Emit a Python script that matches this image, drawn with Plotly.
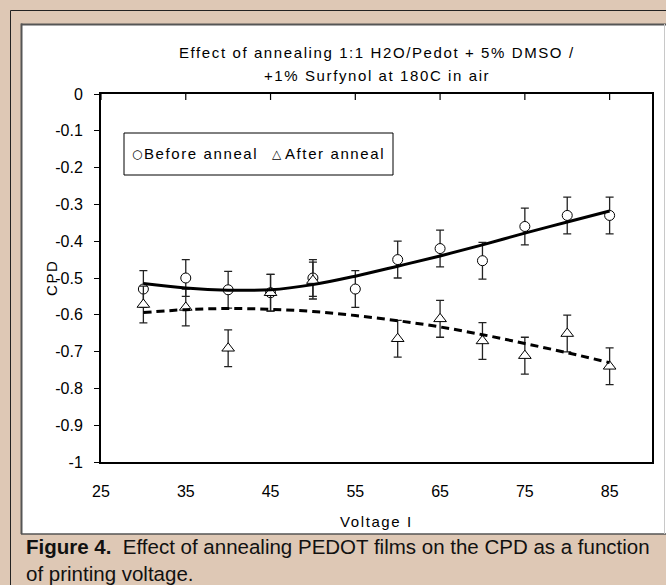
import plotly.graph_objects as go

# ---------------- data ----------------
voltage_before = [30, 35, 40, 45, 50, 55, 60, 65, 70, 75, 80, 85]
cpd_before = [-0.53, -0.50, -0.532, -0.54, -0.50, -0.53, -0.45, -0.42, -0.453, -0.36, -0.33, -0.33]
err_before = [0.05, 0.05, 0.05, 0.05, 0.05, 0.05, 0.05, 0.05, 0.05, 0.05, 0.05, 0.05]

voltage_after = [30, 35, 40, 45, 50, 60, 65, 70, 75, 80, 85]
cpd_after = [-0.572, -0.58, -0.691, -0.54, -0.507, -0.665, -0.611, -0.671, -0.711, -0.651, -0.74]
err_after = [0.05, 0.05, 0.05, 0.05, 0.05, 0.05, 0.05, 0.05, 0.05, 0.05, 0.05]

trend_voltage = [30, 35, 40, 45, 50, 55, 60, 65, 70, 75, 80, 85]
trend_before = [-0.515, -0.527, -0.533, -0.532, -0.518, -0.495, -0.468, -0.44, -0.41, -0.378, -0.348, -0.318]
trend_after = [-0.594, -0.586, -0.583, -0.585, -0.591, -0.602, -0.616, -0.633, -0.654, -0.678, -0.703, -0.73]

series_names = ["Before anneal", "After anneal"]
x_tickvals = [25, 35, 45, 55, 65, 75, 85]
y_tickvals = [0, -0.1, -0.2, -0.3, -0.4, -0.5, -0.6, -0.7, -0.8, -0.9, -1]
y_ticktext = ["0", "-0.1", "-0.2", "-0.3", "-0.4", "-0.5", "-0.6", "-0.7", "-0.8", "-0.9", "-1"]

title_lines = ["Effect of annealing 1:1 H2O/Pedot + 5% DMSO /", "+1% Surfynol at 180C in air"]
x_title = "Voltage I"
y_title = "CPD"
caption_lines = ["<b>Figure 4.</b>  Effect of annealing PEDOT films on the CPD as a function",
                 "of printing voltage."]

# ---------------- layout geometry ----------------
FIG_W, FIG_H = 666, 585
L, T, R, B = 101, 94, 14, 123
W = FIG_W - L - R
H = FIG_H - T - B

def fx(px):
    return (px - L) / W

def fy(py):
    return (T + H - py) / H

FONT = "Liberation Sans, Arial, sans-serif"
TAN = "#dec8b5"

def spaced(text, sp=1.6):
    return '<span style="letter-spacing:%spx">%s</span>' % (sp, text)

fig = go.Figure()

fig.add_trace(go.Scatter(
    x=voltage_before, y=cpd_before, mode="markers", name=series_names[0],
    marker=dict(symbol="circle", size=10, color="white", line=dict(color="black", width=1)),
    error_y=dict(type="data", array=err_before, visible=True, color="#222", thickness=1.3, width=4),
    showlegend=False,
))
fig.add_trace(go.Scatter(
    x=voltage_after, y=cpd_after, mode="markers", name=series_names[1],
    marker=dict(symbol="triangle-up", size=11, color="white", line=dict(color="black", width=1)),
    error_y=dict(type="data", array=err_after, visible=True, color="#222", thickness=1.3, width=4),
    showlegend=False,
))
fig.add_trace(go.Scatter(
    x=trend_voltage, y=trend_before, mode="lines", name=series_names[0] + " trend",
    line=dict(color="black", width=3, shape="spline", smoothing=1.0),
    showlegend=False, hoverinfo="skip",
))
fig.add_trace(go.Scatter(
    x=trend_voltage, y=trend_after, mode="lines", name=series_names[1] + " trend",
    line=dict(color="black", width=3, shape="spline", smoothing=1.0, dash="8px,5px"),
    showlegend=False, hoverinfo="skip",
))

shapes = [
    # white inner panel
    dict(type="rect", xref="paper", yref="paper", x0=fx(21), x1=fx(700), y0=fy(534), y1=fy(24),
         fillcolor="white", line=dict(width=0), layer="below"),
    # inner panel borders
    dict(type="line", xref="paper", yref="paper", x0=fx(21.5), x1=fx(21.5), y0=fy(534), y1=fy(23.5),
         line=dict(color="#555", width=2), layer="below"),
    dict(type="line", xref="paper", yref="paper", x0=fx(21), x1=fx(700), y0=fy(24.5), y1=fy(24.5),
         line=dict(color="#555", width=2), layer="below"),
    dict(type="line", xref="paper", yref="paper", x0=fx(21), x1=fx(700), y0=fy(534), y1=fy(534),
         line=dict(color="#555", width=1.5), layer="below"),
    dict(type="line", xref="paper", yref="paper", x0=fx(664.5), x1=fx(664.5), y0=fy(534), y1=fy(24),
         line=dict(color="#c8c8c8", width=1), layer="below"),
    # outer dark frame
    dict(type="line", xref="paper", yref="paper", x0=fx(10.5), x1=fx(10.5), y0=fy(700), y1=fy(10.5),
         line=dict(color="#222", width=1), layer="below"),
    dict(type="line", xref="paper", yref="paper", x0=fx(10.5), x1=fx(700), y0=fy(10.5), y1=fy(10.5),
         line=dict(color="#222", width=1), layer="below"),
    # legend box
    dict(type="rect", xref="paper", yref="paper", x0=fx(124), x1=fx(393), y0=fy(175), y1=fy(133),
         fillcolor="white", line=dict(color="black", width=1), layer="above"),
]
# x-axis tick marks: the category axis sits at y = 0 (top edge) with ticks pointing down
for v in x_tickvals:
    shapes.append(dict(type="line", xref="x", yref="paper", x0=v, x1=v, y0=1.0, y1=fy(T + 6),
                       line=dict(color="black", width=1.2), layer="above"))

annotations = [
    dict(text=spaced(title_lines[0]), x=0.5, y=fy(53), xref="paper", yref="paper",
         xanchor="center", yanchor="middle", showarrow=False, font=dict(family=FONT, size=15, color="black")),
    dict(text=spaced(title_lines[1]), x=0.5, y=fy(76), xref="paper", yref="paper",
         xanchor="center", yanchor="middle", showarrow=False, font=dict(family=FONT, size=15, color="black")),
    dict(text=spaced(x_title), x=0.5, y=fy(521), xref="paper", yref="paper",
         xanchor="center", yanchor="middle", showarrow=False, font=dict(family=FONT, size=15, color="black")),
    dict(text=spaced(y_title), x=fx(51), y=fy(278), xref="paper", yref="paper", textangle=-90,
         xanchor="center", yanchor="middle", showarrow=False, font=dict(family=FONT, size=15, color="black")),
    # legend entries
    dict(text="○", x=fx(137), y=fy(154), xref="paper", yref="paper",
         xanchor="center", yanchor="middle", showarrow=False, font=dict(family="DejaVu Sans", size=12, color="black")),
    dict(text=spaced(series_names[0]), x=fx(142), y=fy(154), xref="paper", yref="paper",
         xanchor="left", yanchor="middle", showarrow=False, font=dict(family=FONT, size=15, color="black")),
    dict(text="△", x=fx(277), y=fy(154), xref="paper", yref="paper",
         xanchor="center", yanchor="middle", showarrow=False, font=dict(family="DejaVu Sans", size=12, color="black")),
    dict(text=spaced(series_names[1]), x=fx(283), y=fy(154), xref="paper", yref="paper",
         xanchor="left", yanchor="middle", showarrow=False, font=dict(family=FONT, size=15, color="black")),
    # caption (two lines, one text block)
    dict(text=caption_lines[0] + "<br>" + caption_lines[1], x=fx(24), y=fy(560), xref="paper", yref="paper",
         xanchor="left", yanchor="middle", align="left", showarrow=False,
         font=dict(family=FONT, size=20.5, color="#111")),
]

fig.update_layout(
    width=FIG_W, height=FIG_H,
    margin=dict(l=L, r=R, t=T, b=B, pad=0),
    paper_bgcolor=TAN, plot_bgcolor="white",
    font=dict(family=FONT, size=16, color="black"),
    showlegend=False,
    shapes=shapes,
    annotations=annotations,
    xaxis=dict(range=[25, 90], tickvals=x_tickvals, ticks="", showgrid=False, zeroline=False,
               showline=True, linecolor="black", linewidth=2, mirror=True,
               tickfont=dict(family=FONT, size=16, color="black"), ticklabelstandoff=14),
    yaxis=dict(range=[-1, 0], tickvals=y_tickvals, ticktext=y_ticktext, ticks="outside", ticklen=5,
               tickwidth=1, tickcolor="black", showgrid=False, zeroline=False,
               showline=True, linecolor="black", linewidth=2, mirror=True,
               tickfont=dict(family=FONT, size=16, color="black"), ticklabelstandoff=8),
)

fig.write_html("out.html")
